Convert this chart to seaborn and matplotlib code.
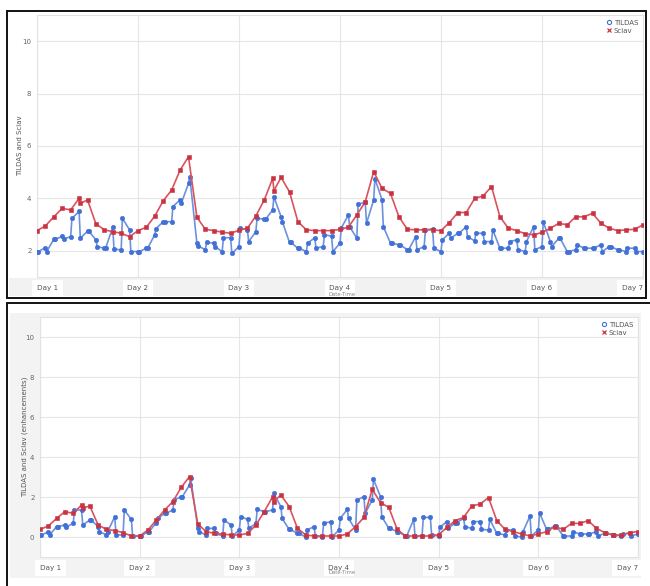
import numpy as np
import pandas as pd
import matplotlib
matplotlib.use("Agg")
import matplotlib.pyplot as plt
from matplotlib.patches import Rectangle
from matplotlib.lines import Line2D
import seaborn as sns

sns.set_theme(style="white")
plt.rcParams["font.family"] = ["DejaVu Sans"]

# ---- data: 2-hourly samples over seven days --------------------------------
slot_hours = [2 * k for k in range(73)]
day_labels = ["Day 1", "Day 2", "Day 3", "Day 4", "Day 5", "Day 6", "Day 7"]

sciav_total = [2.77, 2.95, 3.30, 3.62, 3.56, 4.00, 3.94, 3.03, 2.80, 2.73, 2.67, 2.54,
               2.77, 2.90, 3.33, 3.91, 4.32, 5.08, 5.59, 3.28, 2.82, 2.77, 2.71, 2.67,
               2.78, 2.86, 3.33, 3.94, 4.76, 4.80, 4.25, 3.11, 2.80, 2.77, 2.77, 2.77,
               2.82, 2.90, 3.37, 3.87, 5.02, 4.38, 4.19, 3.30, 2.82, 2.80, 2.80, 2.80,
               2.77, 3.08, 3.46, 3.46, 4.00, 4.09, 4.45, 3.30, 2.86, 2.77, 2.65, 2.61,
               2.70, 2.86, 3.05, 2.99, 3.30, 3.30, 3.43, 3.05, 2.86, 2.77, 2.80, 2.82, 2.99]
sciav_enh = [0.38, 0.55, 0.93, 1.27, 1.18, 1.60, 1.55, 0.60, 0.38, 0.32, 0.22, 0.05,
             0.05, 0.35, 0.85, 1.35, 1.77, 2.48, 3.02, 0.65, 0.27, 0.18, 0.15, 0.10,
             0.10, 0.18, 0.60, 1.27, 2.00, 2.10, 1.52, 0.43, 0.10, 0.05, 0.05, 0.05,
             0.05, 0.15, 0.52, 0.98, 2.38, 1.72, 1.48, 0.38, 0.05, 0.05, 0.05, 0.05,
             0.12, 0.48, 0.82, 0.98, 1.55, 1.65, 1.97, 0.82, 0.38, 0.27, 0.15, 0.05,
             0.15, 0.27, 0.52, 0.38, 0.68, 0.68, 0.82, 0.43, 0.22, 0.10, 0.10, 0.22, 0.27]
# repeat Sciav readings inside a slot
sciav_extra_slot = [5, 28]
sciav_extra_total = [3.81, 4.30]
sciav_extra_enh = [1.45, 1.77]

# TILDAS: lowest and highest reading within each 2-hour slot
tildas_total_lo = [1.97, 1.97, 2.44, 2.45, 2.54, 2.48, 2.75, 2.16, 2.10, 2.06, 2.04, 1.97,
                   1.97, 2.10, 2.62, 3.11, 3.11, 3.82, 4.57, 2.19, 2.04, 2.16, 1.97, 1.90,
                   2.16, 2.35, 2.73, 3.20, 3.56, 3.11, 2.32, 2.10, 1.97, 2.10, 2.16, 1.97,
                   2.29, 2.92, 2.48, 3.05, 3.94, 2.92, 2.29, 2.23, 2.04, 2.04, 2.16, 2.10,
                   1.97, 2.48, 2.67, 2.54, 2.38, 2.35, 2.35, 2.10, 2.10, 2.04, 1.97, 2.04,
                   2.16, 2.16, 2.48, 1.97, 2.04, 2.10, 2.10, 1.97, 2.16, 2.04, 1.97, 1.97, 1.97]
tildas_total_hi = [1.97, 2.12, 2.44, 2.55, 3.24, 3.50, 2.75, 2.42, 2.10, 2.90, 3.24, 2.80,
                   1.97, 2.10, 2.85, 3.11, 3.69, 3.94, 4.83, 2.29, 2.33, 2.29, 2.50, 2.50,
                   2.87, 2.80, 3.25, 3.20, 4.06, 3.30, 2.32, 2.10, 2.29, 2.50, 2.61, 2.56,
                   2.87, 3.37, 3.78, 3.85, 4.75, 3.94, 2.29, 2.23, 2.04, 2.54, 2.80, 2.84,
                   2.42, 2.67, 2.67, 2.92, 2.67, 2.67, 2.80, 2.10, 2.35, 2.42, 2.35, 2.92,
                   3.10, 2.35, 2.48, 1.97, 2.23, 2.10, 2.10, 2.23, 2.16, 2.04, 2.10, 2.10, 1.97]
tildas_enh_lo = [0.08, 0.10, 0.52, 0.50, 0.68, 0.60, 0.85, 0.27, 0.10, 0.10, 0.10, 0.05,
                 0.05, 0.27, 0.72, 1.18, 1.35, 2.02, 2.60, 0.27, 0.10, 0.18, 0.05, 0.05,
                 0.35, 0.43, 0.68, 1.27, 1.35, 0.93, 0.38, 0.18, 0.00, 0.05, 0.00, 0.00,
                 0.35, 0.93, 0.35, 1.18, 1.85, 1.02, 0.43, 0.27, 0.05, 0.05, 0.05, 0.10,
                 0.05, 0.43, 0.72, 0.52, 0.43, 0.38, 0.35, 0.18, 0.10, 0.05, 0.00, 0.05,
                 0.35, 0.38, 0.55, 0.05, 0.05, 0.15, 0.15, 0.05, 0.18, 0.10, 0.05, 0.05, 0.15]
tildas_enh_hi = [0.08, 0.27, 0.52, 0.60, 1.35, 1.35, 0.85, 0.52, 0.27, 1.02, 1.35, 0.88,
                 0.05, 0.27, 0.93, 1.18, 1.85, 2.02, 2.93, 0.43, 0.43, 0.43, 0.85, 0.60,
                 1.02, 0.88, 1.38, 1.27, 2.18, 1.52, 0.38, 0.18, 0.35, 0.52, 0.68, 0.77,
                 0.93, 1.38, 1.85, 2.02, 2.88, 2.02, 0.43, 0.27, 0.05, 0.88, 0.98, 0.98,
                 0.50, 0.77, 0.72, 0.93, 0.77, 0.77, 0.88, 0.18, 0.35, 0.35, 0.27, 1.05,
                 1.20, 0.38, 0.55, 0.05, 0.27, 0.15, 0.15, 0.27, 0.18, 0.10, 0.15, 0.18, 0.15]

BLUE_LINE = "#6d91de"
BLUE_MARK = "#4170d6"
RED_LINE = "#d9535f"
RED_MARK = "#c93341"


def tildas_frame(lo, hi):
    hours, vals = [], []
    for k, h in enumerate(slot_hours):
        pair = (lo[k], hi[k]) if k % 2 == 0 else (hi[k], lo[k])
        hours += [h, h + 0.3]
        vals += list(pair)
    return pd.DataFrame({"hour": hours, "value": vals})


def sciav_frame(main, extra):
    hours = list(slot_hours) + [slot_hours[s] + 0.3 for s in sciav_extra_slot]
    vals = list(main) + list(extra)
    return pd.DataFrame({"hour": hours, "value": vals}).sort_values("hour")


W, H = 650, 586
fig = plt.figure(figsize=(W / 100, H / 100), dpi=100)
fig.patch.set_facecolor("white")


def fbox(x0, y0, x1, y1):
    return (x0 / W, 1 - y1 / H, (x1 - x0) / W, (y1 - y0) / H)


def fig_rect(box, **kw):
    l, b, w, h = fbox(*box)
    fig.patches.append(Rectangle((l, b), w, h, transform=fig.transFigure, **kw))


# soft grey backgrounds behind the tick-label areas
fig_rect((9, 278, 644, 296), facecolor="#f2f2f2", edgecolor="none", zorder=-2)
fig_rect((10, 313, 641, 578), facecolor="#f3f3f3", edgecolor="none", zorder=-2)
# panel frames
fig_rect((7, 11, 646, 298), facecolor="none", edgecolor="#111111", lw=1.4, zorder=5)
fig_rect((7, 303, 655, 592), facecolor="none", edgecolor="#111111", lw=1.4, zorder=5)

panels = [
    dict(box=(37, 15, 643, 277), ylim=(1, 11), yticks=[2, 4, 6, 8, 10],
         tl=tildas_total_lo, th=tildas_total_hi, sc=sciav_total, sx=sciav_extra_total,
         ylabel="TILDAS and Sciav", ylab_x=20, xlab_y=294),
    dict(box=(40, 317, 638, 557), ylim=(-1, 11), yticks=[0, 2, 4, 6, 8, 10],
         tl=tildas_enh_lo, th=tildas_enh_hi, sc=sciav_enh, sx=sciav_extra_enh,
         ylabel="TILDAS and Sciav (enhancements)", ylab_x=25, xlab_y=573),
]

for p in panels:
    x0, y0, x1, y1 = p["box"]
    ax = fig.add_axes(fbox(x0, y0, x1, y1))
    ax.set_facecolor("white")

    sns.lineplot(data=tildas_frame(p["tl"], p["th"]), x="hour", y="value", ax=ax,
                 sort=False, estimator=None, color=BLUE_LINE, lw=1.2,
                 marker="o", markersize=3.2, markerfacecolor=BLUE_MARK,
                 markeredgecolor=BLUE_MARK, markeredgewidth=0.4, zorder=3)
    sns.lineplot(data=sciav_frame(p["sc"], p["sx"]), x="hour", y="value", ax=ax,
                 sort=False, estimator=None, color=RED_LINE, lw=1.2,
                 marker="s", markersize=2.6, markerfacecolor=RED_MARK,
                 markeredgecolor=RED_MARK, markeredgewidth=0.4, zorder=4)

    ax.set_xlim(0, 144)
    ax.set_ylim(*p["ylim"])
    ax.set_yticks(p["yticks"])
    ax.set_xticks([24 * d for d in range(7)])
    ax.set_xticklabels(day_labels)
    ax.grid(True, color="#e6e6e6", lw=0.8)
    ax.set_axisbelow(True)
    for s in ax.spines.values():
        s.set_color("#e2e2e2")
        s.set_linewidth(0.8)
    ax.tick_params(axis="y", length=0, pad=4, labelsize=5, labelcolor="#666666")
    ax.tick_params(axis="x", length=0, pad=6, labelsize=5.2, labelcolor="#555555")
    for t in ax.get_xticklabels():
        t.set_bbox(dict(facecolor="white", edgecolor="none", pad=3.5))
    labs = ax.get_xticklabels()
    labs[0].set_ha("left")
    labs[-1].set_ha("right")
    ax.set_xlabel("")
    ax.set_ylabel("")

    fig.text(p["ylab_x"] / W, 1 - ((y0 + y1) / 2) / H, p["ylabel"], rotation=90,
             ha="center", va="center", fontsize=5, color="#555555")
    fig.text(342 / W, 1 - p["xlab_y"] / H, "Date-Time", ha="center", va="center",
             fontsize=3.8, color="#888888")

    handles = [Line2D([], [], ls="none", marker="o", markersize=3, markerfacecolor="none",
                      markeredgecolor=BLUE_MARK, markeredgewidth=0.8, label="TILDAS"),
               Line2D([], [], ls="none", marker="x", markersize=3, color=RED_MARK,
                      markeredgewidth=0.9, label="Sciav")]
    leg = ax.legend(handles=handles, loc="upper right", frameon=False, fontsize=5,
                    handletextpad=0.3, labelspacing=0.25, borderaxespad=0.3,
                    handlelength=0.8)
    for t in leg.get_texts():
        t.set_color("#555555")

fig.savefig("out.png", dpi=100)
